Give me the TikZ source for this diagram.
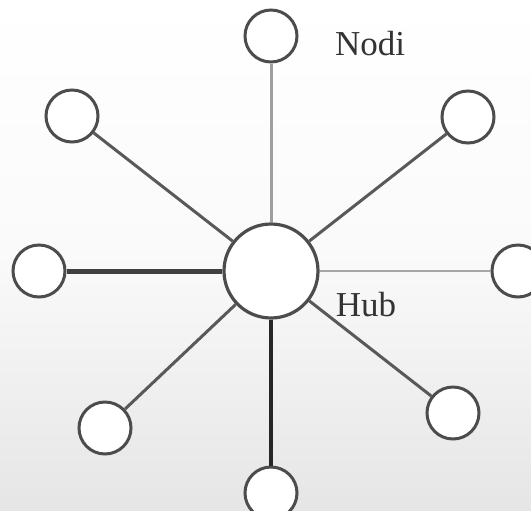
\documentclass[tikz,border=0pt]{standalone}
\usepackage{fontspec}
\setmainfont{Liberation Serif}

\tikzset{
  nodo/.style={circle,draw=black!70,line width=1.5pt,fill=white,minimum size=26pt,inner sep=0pt},
  hubnode/.style={circle,draw=black!70,line width=1.6pt,fill=white,minimum size=47pt,inner sep=0pt},
  linkdiag/.style={draw=black!65,line width=1.5pt},
  lbl/.style={text=black!80,font=\fontsize{17.5}{20}\selectfont,inner sep=0pt}
}

\begin{document}
\begin{tikzpicture}[x=.5pt,y=-.5pt]
\path[use as bounding box] (0,0) rectangle (531,510);
\begin{scope}
\clip (0,0) rectangle (531,510);
\shade[top color=white,bottom color=gray!20,middle color=white!96!gray] (0,0) rectangle (531,510);

\node[hubnode] (hub) at (271,271) {};
\node[nodo] (top) at (271,36) {};
\node[nodo] (ul) at (72,116) {};
\node[nodo] (ur) at (468,117) {};
\node[nodo] (left) at (39,271) {};
\node[nodo] (right) at (518,271) {};
\node[nodo] (ll) at (105,428) {};
\node[nodo] (lr) at (453,413) {};
\node[nodo] (bot) at (271,493) {};

% collegamenti
\path[draw=gray!75,line width=1.5pt] (hub) -- (top);
\path[linkdiag] (hub) -- (ul);
\path[linkdiag] (hub) -- (ur);
\path[linkdiag] (hub) -- (ll);
\path[linkdiag] (hub) -- (lr);
\path[draw=black!75,line width=2.5pt] (hub) -- (left);
\path[draw=gray!70,line width=.7pt] (hub) -- (right);
\path[draw=black!85,line width=1.7pt] (hub) -- (bot);
\end{scope}

\node[lbl] (nodi) at (370,44) {Nodi};
\node[lbl] (hubl) at (366,305) {Hub};
\end{tikzpicture}
\end{document}
